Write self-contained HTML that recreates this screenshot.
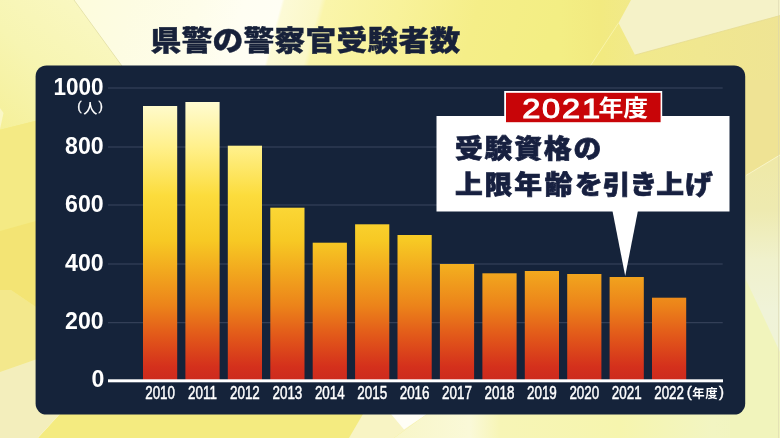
<!DOCTYPE html>
<html lang="ja">
<head>
<meta charset="utf-8">
<title>県警の警察官受験者数</title>
<style>
html,body{margin:0;padding:0;background:#f3e880;}
body{width:780px;height:438px;overflow:hidden;}
svg{display:block;will-change:transform;}
.jp{font-family:"Liberation Sans","Noto Sans CJK JP",sans-serif;}
.num{font-family:"Liberation Sans",sans-serif;}
</style>
</head>
<body>
<svg width="780" height="438" viewBox="0 0 780 438">
<defs>
<linearGradient id="bar" gradientUnits="userSpaceOnUse" x1="0" y1="100" x2="0" y2="381">
<stop offset="0" stop-color="#fffcd4"/>
<stop offset="0.17" stop-color="#fff08a"/>
<stop offset="0.34" stop-color="#fcdc3c"/>
<stop offset="0.50" stop-color="#f7c924"/>
<stop offset="0.61" stop-color="#f2a81e"/>
<stop offset="0.73" stop-color="#ec841a"/>
<stop offset="0.84" stop-color="#e2581a"/>
<stop offset="0.95" stop-color="#d4301c"/>
<stop offset="1" stop-color="#cc2a1e"/>
</linearGradient>
<linearGradient id="glow" gradientUnits="userSpaceOnUse" x1="74" y1="0" x2="527" y2="122.3">
<stop offset="0.000" stop-color="#fdfcdc"/>
<stop offset="0.115" stop-color="#fdfce2"/>
<stop offset="0.259" stop-color="#fefdea"/>
<stop offset="0.352" stop-color="#fffef2"/>
<stop offset="0.428" stop-color="#fffef4"/>
<stop offset="0.434" stop-color="#fcfad6"/>
<stop offset="0.508" stop-color="#fbf8c8"/>
<stop offset="0.519" stop-color="#faf5aa"/>
<stop offset="0.671" stop-color="#f8f29a"/>
<stop offset="0.835" stop-color="#f5ee88"/>
<stop offset="1.000" stop-color="#f3ee84"/>
</linearGradient>
<linearGradient id="tl" gradientUnits="userSpaceOnUse" x1="0" y1="128" x2="110" y2="0">
<stop offset="0" stop-color="#f5f09a"/>
<stop offset="0.45" stop-color="#f7f5b2"/>
<stop offset="0.8" stop-color="#f9f7be"/>
<stop offset="1" stop-color="#faf8c6"/>
</linearGradient>
<linearGradient id="bot" gradientUnits="userSpaceOnUse" x1="394" y1="0" x2="780" y2="0">
<stop offset="0.000" stop-color="#f8f6c8"/>
<stop offset="0.197" stop-color="#faf9d8"/>
<stop offset="0.275" stop-color="#f7f5b6"/>
<stop offset="0.585" stop-color="#f6f5ae"/>
<stop offset="0.826" stop-color="#f2f5c2"/>
<stop offset="1.000" stop-color="#f1f4be"/>
</linearGradient>
<linearGradient id="rt" gradientUnits="userSpaceOnUse" x1="0" y1="165" x2="0" y2="438">
<stop offset="0.000" stop-color="#efe9a8"/>
<stop offset="0.165" stop-color="#eeeab0"/>
<stop offset="0.348" stop-color="#f0f1cc"/>
<stop offset="0.531" stop-color="#f0f3d8"/>
<stop offset="1.000" stop-color="#f0f3d4"/>
</linearGradient>
<linearGradient id="tr" gradientUnits="userSpaceOnUse" x1="560" y1="0" x2="780" y2="0">
<stop offset="0.000" stop-color="#f3ee84"/>
<stop offset="0.182" stop-color="#f2ea80"/>
<stop offset="0.364" stop-color="#f1e98c"/>
<stop offset="0.636" stop-color="#f0e790"/>
<stop offset="1.000" stop-color="#efe494"/>
</linearGradient>
</defs>
<!-- background -->
<rect width="780" height="438" fill="#f3ee84"/>
<g id="facets">
<!-- top glow -->
<polygon points="74,0 132.2,80 560,80 560,0" fill="url(#glow)"/>
<!-- top-left yellow -->
<polygon points="0,0 74,0 132.2,80 50,80 50,117.3 0,129.7" fill="url(#tl)"/>
<line x1="74" y1="0" x2="122" y2="66" stroke="#d9d5a4" stroke-width="0.8" opacity="0.7"/>
<!-- left strip -->
<polygon points="0,108 3.5,113 0,129" fill="#faf7c6"/>
<polygon points="0,129.7 50,117.3 50,217 0,231" fill="#f4ea84"/>
<polygon points="0,231 50,217 50,316.5 11,290 0,290" fill="#f3e474"/>
<polygon points="0,290 11,290 50,316.5 50,354.6 0,372" fill="#f3e88c"/>
<polygon points="0,372 50,354.6 50,400 72.8,400 38,438 0,438" fill="#f3eebc"/>
<line x1="60" y1="414" x2="38" y2="438" stroke="#fbf8da" stroke-width="1"/>
<!-- bottom strip -->
<polygon points="72.8,400 38,438 349,438 371.2,400" fill="#f4eb80"/>
<polygon points="371.2,400 349,438 394,438 446.2,400" fill="#f8f4c4"/>
<polygon points="391,414 427,414 404,429.5" fill="#fffef6"/>
<polygon points="446.2,400 394,438 780,438 780,400" fill="url(#bot)"/>
<!-- right strip -->
<polygon points="730,60 780,60 780,155 730,185.1" fill="#efe394"/>
<polygon points="730,185.1 780,155 780,438 730,438" fill="url(#rt)"/>
<line x1="780" y1="155" x2="746" y2="175.5" stroke="#f8f4c8" stroke-width="1"/>
<polygon points="730,246 780,352 780,438 730,438" fill="#f1f4bc"/>
<!-- top right -->
<polygon points="560,0 780,0 780,80 560,80" fill="url(#tr)"/>
<polygon points="631,0 618.5,23 635,55 780,15.6 780,0" fill="#f5f2c8"/>
<line x1="618.5" y1="23" x2="581" y2="80" stroke="#f9f4a8" stroke-width="1"/>
<line x1="635" y1="55" x2="780" y2="15.6" stroke="#e6dc90" stroke-width="0.8"/>
<line x1="778.5" y1="0" x2="778.5" y2="438" stroke="#d8d4b0" stroke-width="1" opacity="0.5"/>
</g>
<!-- panel -->
<rect x="35.6" y="65.4" width="709.6" height="349.2" rx="11" ry="11" fill="#15233a"/>
<rect x="108" y="87.5" width="614.7" height="1" fill="#3b475f"/>
<rect x="108" y="146.5" width="614.7" height="1" fill="#3b475f"/>
<rect x="108" y="204.5" width="614.7" height="1" fill="#3b475f"/>
<rect x="108" y="263.5" width="614.7" height="1" fill="#3b475f"/>
<rect x="108" y="322.2" width="614.7" height="1" fill="#3b475f"/>
<rect x="143.0" y="106" width="34.2" height="274.0" fill="url(#bar)"/>
<rect x="185.4" y="102" width="34.2" height="278.0" fill="url(#bar)"/>
<rect x="227.8" y="145.7" width="34.2" height="234.3" fill="url(#bar)"/>
<rect x="270.3" y="207.7" width="34.2" height="172.3" fill="url(#bar)"/>
<rect x="312.7" y="242.7" width="34.2" height="137.3" fill="url(#bar)"/>
<rect x="355.1" y="224.3" width="34.2" height="155.7" fill="url(#bar)"/>
<rect x="397.5" y="235" width="34.2" height="145.0" fill="url(#bar)"/>
<rect x="439.9" y="264" width="34.2" height="116.0" fill="url(#bar)"/>
<rect x="482.4" y="273.3" width="34.2" height="106.7" fill="url(#bar)"/>
<rect x="524.8" y="271" width="34.2" height="109.0" fill="url(#bar)"/>
<rect x="567.2" y="274" width="34.2" height="106.0" fill="url(#bar)"/>
<rect x="609.6" y="277" width="34.2" height="103.0" fill="url(#bar)"/>
<rect x="652.0" y="297.7" width="34.2" height="82.3" fill="url(#bar)"/>
<rect x="108" y="379.3" width="615" height="3" fill="#ffffff"/>
<text class="num" transform="translate(103.6,95.2) scale(0.915,1)" font-size="24.6" font-weight="700" text-anchor="end" fill="#fff">1000</text>
<text class="num" transform="translate(103.6,154.2) scale(0.94,1)" font-size="24.6" font-weight="700" text-anchor="end" fill="#fff">800</text>
<text class="num" transform="translate(103.6,212.0) scale(0.94,1)" font-size="24.6" font-weight="700" text-anchor="end" fill="#fff">600</text>
<text class="num" transform="translate(103.6,270.6) scale(0.94,1)" font-size="24.6" font-weight="700" text-anchor="end" fill="#fff">400</text>
<text class="num" transform="translate(103.6,329.1) scale(0.94,1)" font-size="24.6" font-weight="700" text-anchor="end" fill="#fff">200</text>
<text class="num" transform="translate(104.4,386.8) scale(0.94,1)" font-size="24.6" font-weight="700" text-anchor="end" fill="#fff">0</text>
<text class="jp" y="112.2" fill="#fff"><tspan x="77.2" y="110.4" font-size="13.2" stroke="#fff" stroke-width="0.3">(</tspan><tspan x="83.2" y="112.6" font-size="14.2" font-weight="500">人</tspan><tspan x="98.6" y="110.4" font-size="13.2" stroke="#fff" stroke-width="0.3">)</tspan></text>
<text class="num" transform="translate(160.1,399.1) scale(0.745,1)" font-size="18.0" text-anchor="middle" fill="#fff" stroke="#fff" stroke-width="0.5">2010</text>
<text class="num" transform="translate(202.5,399.1) scale(0.745,1)" font-size="18.0" text-anchor="middle" fill="#fff" stroke="#fff" stroke-width="0.5">2011</text>
<text class="num" transform="translate(244.9,399.1) scale(0.745,1)" font-size="18.0" text-anchor="middle" fill="#fff" stroke="#fff" stroke-width="0.5">2012</text>
<text class="num" transform="translate(287.4,399.1) scale(0.745,1)" font-size="18.0" text-anchor="middle" fill="#fff" stroke="#fff" stroke-width="0.5">2013</text>
<text class="num" transform="translate(329.8,399.1) scale(0.745,1)" font-size="18.0" text-anchor="middle" fill="#fff" stroke="#fff" stroke-width="0.5">2014</text>
<text class="num" transform="translate(372.2,399.1) scale(0.745,1)" font-size="18.0" text-anchor="middle" fill="#fff" stroke="#fff" stroke-width="0.5">2015</text>
<text class="num" transform="translate(414.6,399.1) scale(0.745,1)" font-size="18.0" text-anchor="middle" fill="#fff" stroke="#fff" stroke-width="0.5">2016</text>
<text class="num" transform="translate(457.0,399.1) scale(0.745,1)" font-size="18.0" text-anchor="middle" fill="#fff" stroke="#fff" stroke-width="0.5">2017</text>
<text class="num" transform="translate(499.5,399.1) scale(0.745,1)" font-size="18.0" text-anchor="middle" fill="#fff" stroke="#fff" stroke-width="0.5">2018</text>
<text class="num" transform="translate(541.9,399.1) scale(0.745,1)" font-size="18.0" text-anchor="middle" fill="#fff" stroke="#fff" stroke-width="0.5">2019</text>
<text class="num" transform="translate(584.3,399.1) scale(0.745,1)" font-size="18.0" text-anchor="middle" fill="#fff" stroke="#fff" stroke-width="0.5">2020</text>
<text class="num" transform="translate(626.7,399.1) scale(0.745,1)" font-size="18.0" text-anchor="middle" fill="#fff" stroke="#fff" stroke-width="0.5">2021</text>
<text class="num" transform="translate(669.1,399.1) scale(0.745,1)" font-size="18.0" text-anchor="middle" fill="#fff" stroke="#fff" stroke-width="0.5">2022</text>
<text class="jp" fill="#fff"><tspan x="686.8" y="396.8" font-size="15" stroke="#fff" stroke-width="0.4">(</tspan><tspan x="692.2" y="397.6" font-size="12.4" font-weight="700" letter-spacing="0.6">年度</tspan><tspan x="719" y="396.8" font-size="15" stroke="#fff" stroke-width="0.4">)</tspan></text>
<rect x="436.5" y="116" width="293" height="95.5" fill="#ffffff"/>
<polygon points="612.5,211 637.9,211 625.2,276" fill="#ffffff"/>
<rect x="504.2" y="91" width="158" height="32" fill="#ffffff"/>
<rect x="506" y="92.8" width="154.6" height="29.4" fill="#c80508"/>
<text class="jp" y="117.6" fill="#fff"><tspan x="522.2" font-size="27.2" font-weight="400" stroke="#fff" stroke-width="1.0" letter-spacing="1.5" textLength="79.6" lengthAdjust="spacingAndGlyphs">2021</tspan><tspan x="598.4" y="116.2" font-size="22.2" font-weight="700" textLength="49.6" lengthAdjust="spacingAndGlyphs">年度</tspan></text>
<text class="jp" transform="translate(455,158) scale(1.07,1)" font-size="26" font-weight="900" fill="#172040" stroke="#172040" stroke-width="0.7" letter-spacing="1.7">受験資格の</text>
<text class="jp" transform="translate(455,194.4) scale(1.07,1)" font-size="26" font-weight="900" fill="#172040" stroke="#172040" stroke-width="0.7" letter-spacing="1.7" dx="0 0 0 0.8 0.6 -1.85 -2.5 -2.7 -0.8">上限年齢を引き上げ</text>
<text class="jp" transform="translate(150.6,51.4) scale(1.076,1)" font-size="28.6" font-weight="900" fill="#17213a" stroke="#17213a" stroke-width="0.4" letter-spacing="0.22">県警の警察官受験者数</text>
</svg>
</body>
</html>
